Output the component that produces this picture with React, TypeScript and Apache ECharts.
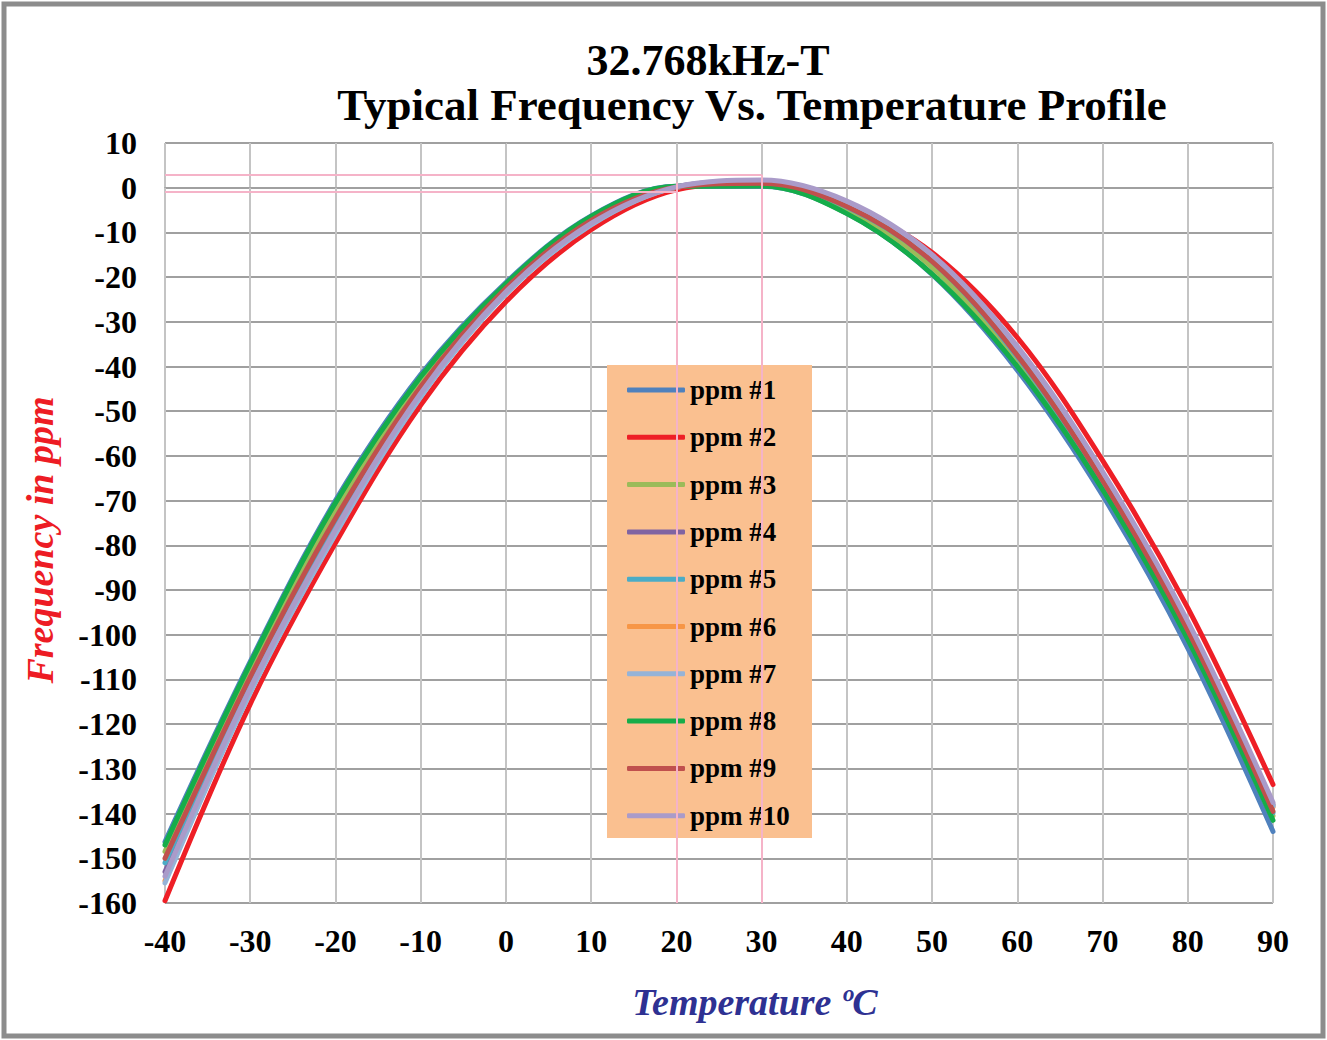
import React, { useEffect, useRef } from "react";
import * as echarts from "echarts";

// Temperature (°C) sample points
const temperatures = [-40, -30, -20, -10, 0, 10, 20, 30, 40, 50, 60, 70, 80, 90];

// Frequency deviation (ppm)
const ppm1 = [-146.3, -106, -70, -41.8, -21.2, -6.3, 0.3, 0.3, -5.7, -19.4, -40.8, -68.8, -103, -144];
const ppm2 = [-159.5, -115.5, -79.5, -48.6, -25.5, -9.4, -0.5, 1.0, -4, -14.5, -33.5, -61, -94, -133.5];
const ppm3 = [-148.5, -108, -72.2, -43.3, -22, -6.8, 0.2, 0.7, -5, -17.8, -39, -66.5, -100, -140.5];
const ppm4 = [-153, -111.5, -75.8, -45.6, -23, -7.8, 0.2, 1.4, -3.5, -15.5, -36.3, -64.3, -97.8, -138];
const ppm5 = [-151, -110.3, -74.8, -45, -22.7, -7.5, 0.1, 1.1, -4.3, -16.5, -37.8, -65.8, -99.3, -139.8];
const ppm6 = [-155, -112.8, -77.2, -46.6, -23.6, -8.2, 0.1, 1.4, -3.6, -15.4, -36.2, -64.3, -98, -138.5];
const ppm7 = [-155.5, -113, -77.5, -46.8, -23.8, -8.3, 0.1, 1.5, -3.3, -15.3, -36, -64, -97.8, -138.3];
const ppm8 = [-147, -106.5, -70.5, -42.3, -21.5, -6.4, 0.3, 0.4, -5.8, -19.3, -40, -67.5, -101, -141.5];
const ppm9 = [-150, -109.5, -74, -44.5, -22.5, -7.3, 0.1, 1.0, -4.2, -16.5, -37.5, -65.5, -99, -139.5];
const ppm10 = [-154, -112, -76.5, -46, -23.3, -8, 0.2, 1.7, -3, -15, -35.5, -63.5, -97, -137.5];

const seriesNames = ["ppm #1", "ppm #2", "ppm #3", "ppm #4", "ppm #5", "ppm #6", "ppm #7", "ppm #8", "ppm #9", "ppm #10"];
const seriesColors = ["#4f81bd", "#ee1f26", "#9bbb59", "#8064a2", "#4bacc6", "#f79646", "#95b3d7", "#15ad4a", "#c0504d", "#aa9bc9"];

// Reference (pink) guide lines
const guideUpperY = 2.9;
const guideLowerY = -0.8;
const guideLeftX = 20;
const guideRightX = 30;
const xMin = -40;
const xMax = 90;
const yMin = -160;
const yMax = 10;

const FONT = "'Liberation Serif', 'Times New Roman', serif";

export default function App() {
  const ref = useRef<HTMLDivElement>(null);

  useEffect(() => {
    if (!ref.current) return;
    const chart = echarts.init(ref.current, null, { renderer: "svg" });
    const allValues = [ppm1, ppm2, ppm3, ppm4, ppm5, ppm6, ppm7, ppm8, ppm9, ppm10];
    const pink = { color: "#f5b3c8", width: 2, type: "solid" as const };

    const series: any[] = allValues.map((vals, i) => ({
      name: seriesNames[i],
      type: "line",
      data: temperatures.map((t, j) => [t, vals[j]]),
      smooth: 0.35,
      symbol: "none",
      showSymbol: false,
      z: 2,
      lineStyle: { color: seriesColors[i], width: 5, cap: "round", join: "round" },
      itemStyle: { color: seriesColors[i] },
      emphasis: { disabled: true },
    }));

    series[0].markLine = {
      silent: true,
      symbol: "none",
      label: { show: false },
      lineStyle: pink,
      z: 5,
      data: [
        [{ coord: [xMin, guideUpperY] }, { coord: [guideRightX, guideUpperY] }],
        [{ coord: [guideRightX, guideUpperY] }, { coord: [guideRightX, yMin] }],
        [{ coord: [xMin, guideLowerY] }, { coord: [guideLeftX, guideLowerY] }],
        [{ coord: [guideLeftX, 1.2] }, { coord: [guideLeftX, yMin] }],
      ],
    };

    chart.setOption({
      animation: false,
      backgroundColor: "#ffffff",
      grid: { left: 165, right: 54, top: 143, bottom: 137, containLabel: false },
      xAxis: {
        type: "value",
        min: xMin,
        max: xMax,
        interval: 10,
        axisLine: { show: true, lineStyle: { color: "#a0a0a0", width: 2 } },
        axisTick: { show: true, length: 8, lineStyle: { color: "#c4c4c4", width: 2 } },
        axisLabel: { fontSize: 32, fontWeight: "bold", fontFamily: FONT, color: "#000", margin: 22 },
        splitLine: { show: true, lineStyle: { color: "#c4c4c4", width: 2 } },
      },
      yAxis: {
        type: "value",
        min: yMin,
        max: yMax,
        interval: 10,
        axisLine: { show: false },
        axisTick: { show: true, length: 10, lineStyle: { color: "#a0a0a0", width: 2 } },
        axisLabel: { fontSize: 32, fontWeight: "bold", fontFamily: FONT, color: "#000", margin: 28 },
        splitLine: { show: true, lineStyle: { color: "#a0a0a0", width: 2 } },
      },
      legend: {
        orient: "vertical",
        left: 627,
        top: 376,
        padding: 0,
        icon: "roundRect",
        itemWidth: 58,
        itemHeight: 5,
        itemGap: 19.3,
        selectedMode: false,
        data: seriesNames,
        textStyle: { fontSize: 27, fontWeight: "bold", fontFamily: FONT, color: "#000", lineHeight: 28 },
        z: 4,
      },
      graphic: [
        {
          type: "rect",
          silent: true,
          z: 0,
          shape: { x: 4, y: 4, width: 1319, height: 1032 },
          style: { fill: "none", stroke: "#8c8c8c", lineWidth: 5 },
        },
        {
          type: "rect",
          silent: true,
          z: 3,
          shape: { x: 607, y: 365, width: 205, height: 473 },
          style: { fill: "#fac090" },
        },
        {
          type: "text",
          z: 10,
          x: 708,
          y: 60,
          style: {
            text: "32.768kHz-T",
            fontSize: 44,
            fontWeight: "bold",
            fontFamily: FONT,
            fill: "#000",
            textAlign: "center",
            textVerticalAlign: "middle",
          },
        },
        {
          type: "text",
          z: 10,
          x: 752,
          y: 105,
          style: {
            text: "Typical Frequency Vs. Temperature Profile",
            fontSize: 45,
            fontWeight: "bold",
            fontFamily: FONT,
            fill: "#000",
            textAlign: "center",
            textVerticalAlign: "middle",
          },
        },
        {
          type: "text",
          z: 10,
          x: 755,
          y: 1002,
          style: {
            text: "Temperature ºC",
            fontSize: 38,
            fontWeight: "bold",
            fontStyle: "italic",
            fontFamily: FONT,
            fill: "#2e3192",
            textAlign: "center",
            textVerticalAlign: "middle",
          },
        },
        {
          type: "text",
          z: 10,
          x: 40,
          y: 540,
          rotation: Math.PI / 2,
          style: {
            text: "Frequency in ppm",
            fontSize: 38,
            fontWeight: "bold",
            fontStyle: "italic",
            fontFamily: FONT,
            fill: "#ed1c24",
            textAlign: "center",
            textVerticalAlign: "middle",
          },
        },
      ],
      series,
    });

    return () => {
      chart.dispose();
    };
  }, []);

  return (
    <div
      ref={ref}
      style={{ position: "fixed", left: 0, top: 0, width: 1327, height: 1040, background: "#fff" }}
    />
  );
}
